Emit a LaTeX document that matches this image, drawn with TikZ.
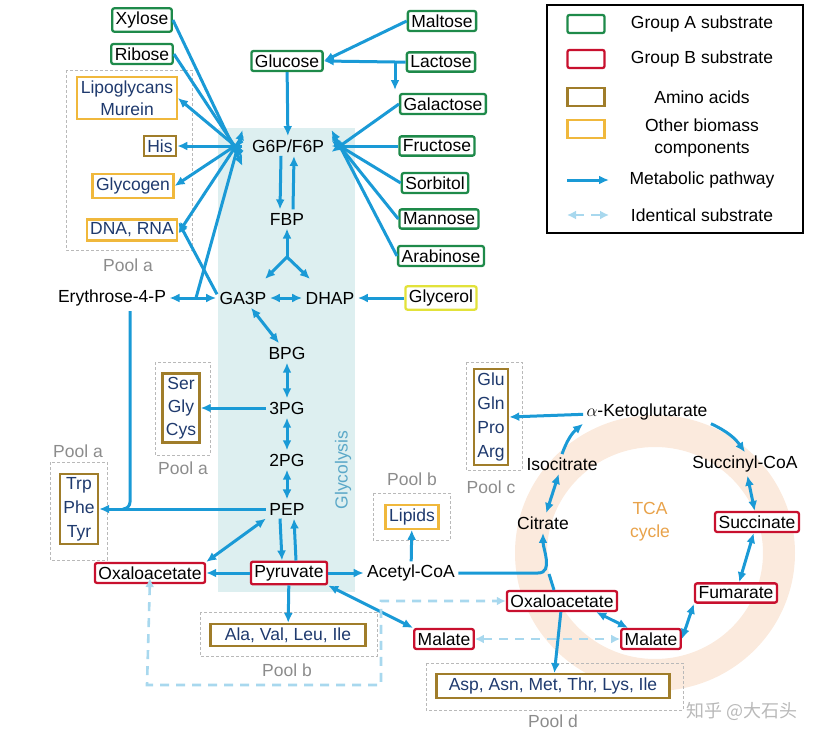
\documentclass[tikz,border=0pt]{standalone}
\usepackage{fontspec}
\setmainfont{Liberation Sans}
\newfontfamily\cjk{Noto Sans CJK SC}
\usetikzlibrary{arrows.meta,calc}
\definecolor{gA}{HTML}{1E8A4A}
\definecolor{gB}{HTML}{C8102E}
\definecolor{aaC}{HTML}{A07D2A}
\definecolor{obC}{HTML}{F0B83C}
\definecolor{glyC}{HTML}{E2E23A}
\definecolor{txb}{HTML}{1F3A6E}
\definecolor{bl}{HTML}{1A9AD6}
\definecolor{lb}{HTML}{A8D8EE}
\definecolor{shadeC}{HTML}{DDEFF0}
\definecolor{ringC}{HTML}{FBEADD}
\definecolor{tcaC}{HTML}{E8A24A}
\definecolor{glyT}{HTML}{5AA8C8}
\newcommand{\fs}{\fontsize{17.5}{20}\selectfont}
\tikzset{
 every node/.style={font=\fs},
 bx/.style={line width=2.3pt, rounded corners=2pt, inner sep=3.5pt, fill=white},
 ga/.style={bx, draw=gA},
 gb/.style={bx, draw=gB},
 aa/.style={bx, draw=aaC, text=txb, rounded corners=0pt},
 ob/.style={bx, draw=obC, text=txb, rounded corners=0pt},
 pw/.style={draw=bl, line width=3pt, -{Latex[length=10pt,width=9pt]}},
 pwb/.style={draw=bl, line width=3pt, {Latex[length=10pt,width=9pt]}-{Latex[length=10pt,width=9pt]}},
 ln/.style={draw=bl, line width=3pt},
 idn/.style={draw=lb, line width=2.6pt, dash pattern=on 9pt off 7pt, {Latex[length=9pt,width=9pt]}-{Latex[length=9pt,width=9pt]}},
 pool/.style={draw=gray!55, dash pattern=on 3pt off 2pt, line width=1pt},
 pl/.style={text=gray!90, font=\fs},
}
\begin{document}
\begin{tikzpicture}[x=1pt,y=-1pt]
\useasboundingbox (0,0) rectangle (831,739);
% backgrounds
\fill[shadeC] (218,128) rectangle (355,592);
\fill[ringC, even odd rule] (655,553) ellipse (140 and 138) (655,553) ellipse (108 and 106);
\node[rotate=90, text=glyT] (glylab) at (343,470) {Glycolysis};
\node[text=tcaC, align=center, font=\fontsize{17.5}{23}\selectfont] (tcalab) at (650,522) {TCA\\cycle};
% pools
\draw[pool] (66,70) rectangle (192,250);
\node[pl] (pa1) at (128,265) {Pool a};
\draw[pool] (155,362) rectangle (210,455);
\node[pl] (pa2) at (183,468) {Pool a};
\draw[pool] (50,462) rectangle (107,560);
\node[pl] (pa3) at (78,451) {Pool a};
\draw[pool] (373,493) rectangle (450,540);
\node[pl] (pb1) at (412,479) {Pool b};
\draw[pool] (200,612) rectangle (377,656);
\node[pl] (pb2) at (287,670) {Pool b};
\draw[pool] (466,362) rectangle (522,470);
\node[pl] (pc) at (491,487) {Pool c};
\draw[pool] (426,663) rectangle (683,710);
\node[pl] (pd) at (553,721) {Pool d};
% nodes
\node[ga] (xyl) at (142,20) {Xylose};
\node[ga] (rib) at (142,54) {Ribose};
\node[ob, align=center, font=\fontsize{17.5}{22}\selectfont] (lip) at (127,98) {Lipoglycans\\Murein};
\node[aa] (his) at (160,146) {His};
\node[ob] (glyc) at (133,186) {Glycogen};
\node[ob] (dna) at (132,230) {DNA, RNA};
\node[ga] (glu) at (287,61) {Glucose};
\node (g6p) at (288,146) {G6P/F6P};
\node (fbp) at (287,219) {FBP};
\node (ga3p) at (243,298) {GA3P};
\node (dhap) at (330,298) {DHAP};
\node (e4p) at (112,298) {Erythrose-4-P};
\node[ga] (mal) at (442,21) {Maltose};
\node[ga] (lac) at (441,62) {Lactose};
\node[ga] (gal) at (443,104) {Galactose};
\node[ga] (fru) at (437,146) {Fructose};
\node[ga] (sor) at (435,183) {Sorbitol};
\node[ga] (man) at (439,219) {Mannose};
\node[ga] (ara) at (441,256) {Arabinose};
\node[bx, draw=glyC] (glyl) at (441,298) {Glycerol};
\node (bpg) at (287,353) {BPG};
\node (pg3) at (287,408) {3PG};
\node (pg2) at (287,460) {2PG};
\node (pep) at (287,509) {PEP};
\node[gb] (pyr) at (289,573) {Pyruvate};
\node[gb] (oaa1) at (150,573) {Oxaloacetate};
\node (acoa) at (411,573) {Acetyl-CoA};
\node[ob] (lpd) at (412,517) {Lipids};
\node[aa, minimum width=155pt] (alav) at (288,635) {Ala, Val, Leu, Ile};
\node[aa, align=center, font=\fontsize{17.5}{23}\selectfont] (ser) at (181,408) {Ser\\Gly\\Cys};
\node[aa, align=center, font=\fontsize{17.5}{24}\selectfont] (trp) at (79,509) {Trp\\Phe\\Tyr};
\node[aa, align=center, font=\fontsize{17.5}{24}\selectfont] (glum) at (491,417) {Glu\\Gln\\Pro\\Arg};
\node (akg) at (647,412) {$\alpha$-Ketoglutarate};
\node (scoa) at (745,464) {Succinyl-CoA};
\node[gb] (suc) at (757,522) {Succinate};
\node[gb] (fum) at (736,593) {Fumarate};
\node[gb] (mal2) at (651,639) {Malate};
\node[gb] (oaa2) at (562,601) {Oxaloacetate};
\node (cit) at (543,523) {Citrate};
\node (iso) at (562,464) {Isocitrate};
\node[gb] (mal1) at (444,639) {Malate};
\node[aa, minimum width=233pt] (asp) at (553,686) {Asp, Asn, Met, Thr, Lys, Ile};
% legend
\draw[line width=1.8pt] (547,5) rectangle (803,233);
\node[ga, minimum width=37pt, minimum height=18pt, inner sep=0pt] (lA) at (586,24) {};
\node[gb, minimum width=37pt, minimum height=18pt, inner sep=0pt] (lB) at (586,59) {};
\node[aa, minimum width=37pt, minimum height=18pt, inner sep=0pt] (lC) at (586,97) {};
\node[ob, minimum width=37pt, minimum height=18pt, inner sep=0pt] (lD) at (586,129) {};
\node (tA) at (702,24) {Group A substrate};
\node (tB) at (702,59) {Group B substrate};
\node (tC) at (702,97) {Amino acids};
\node[align=center, font=\fontsize{17.5}{22}\selectfont] (tD) at (702,138) {Other biomass\\components};
\node (tE) at (702,180) {Metabolic pathway};
\node (tF) at (702,215) {Identical substrate};
\coordinate (lE1) at (567,180); \coordinate (lE2) at (609,180);
\coordinate (lF1) at (567,215); \coordinate (lF2) at (609,215);
\draw[pw] (lE1) -- (lE2);
\draw[idn] (lF1) -- (lF2);
% watermark
\node[text=gray!55, font=\cjk\fontsize{18}{20}\selectfont] (wm) at (742,711) {知乎 @大石头};
% arrows top-left
\draw[pw] (xyl.east) -- ([xshift=-6,yshift=-20]g6p.west);
\draw[pw] (rib.east) -- ([xshift=-6,yshift=-12]g6p.west);
\draw[pw] ([xshift=-6,yshift=-6]g6p.west) -- (lip.east);
\draw[pw] ([xshift=-6]g6p.west) -- (his.east);
\draw[pw] ([xshift=-6,yshift=5]g6p.west) -- (glyc.east);
\draw[pw] ([xshift=-6,yshift=10]g6p.west) -- ([yshift=-3]dna.east);
\draw[pw] ([xshift=-26,yshift=-6]ga3p.north) -- ([yshift=8]dna.east);
\coordinate (br) at (196,298);
\draw[pw] (br) -- ([xshift=-6,yshift=16]g6p.west);
\draw[pw] (glu) -- (g6p);
\draw[pw] (mal.west) -- (glu.east);
\coordinate (lacj) at (395,62);
\draw[pw] (lac.west) -- (lacj) -- (glu.east);
\draw[pw] (lacj) -- (395,90);
\draw[pw] (gal.west) -- ([xshift=4,yshift=-6]g6p.east);
\draw[pw] (fru.west) -- ([xshift=4]g6p.east);
\draw[pw] (sor.west) -- ([xshift=4,yshift=5]g6p.east);
\draw[pw] (man.west) -- ([xshift=4,yshift=10]g6p.east);
\draw[pw] (ara.west) -- ([xshift=4,yshift=16]g6p.east);
\draw[pw] ([xshift=-7]g6p.south) -- ([xshift=-7]fbp.north);
\draw[pw] ([xshift=6]fbp.north) -- ([xshift=6]g6p.south);
\coordinate (yc) at (287,257);
\draw[pw] (yc) -- (fbp.south);
\draw[pw] (yc) -- (265,279);
\draw[pw] (yc) -- (310,279);
\draw[pwb] (ga3p) -- (dhap);
\draw[pw] (glyl) -- (dhap);
\draw[pwb] (e4p) -- (ga3p);
\draw[pwb] ([xshift=8]ga3p.south) -- ([xshift=-8]bpg.north);
\draw[pwb] (bpg) -- (pg3);
\draw[pwb] (pg3) -- (pg2);
\draw[pwb] (pg2) -- (pep);
\draw[pw] (pg3) -- (ser.east);
\draw[ln] (130,311) -- (130,502) to[out=-90,in=0] (123,509);
\draw[pw] (pep) -- (trp.east);
\draw[pw] ([xshift=-7]pep.south) -- ([xshift=-7]pyr.north);
\draw[pw] ([xshift=7]pyr.north) -- ([xshift=7]pep.south);
\draw[pwb] (pep.south west) -- (oaa1.north east);
\draw[pw] (pyr) -- (oaa1);
\draw[pw] (pyr) -- (acoa);
\draw[pw] (pyr) -- (alav);
\draw[pwb] (pyr.south east) -- (mal1.north west);
\draw[pw] (acoa) -- (lpd);
\draw[pw] (acoa.east) -- (538,573) to[out=0,in=-90] (cit.south);
\draw[ln] ([xshift=-8]oaa2.north) -- (549,574);
\draw[pwb] (cit) -- (iso);
\draw[pw] (iso.north) to[bend left=15] (akg.south west);
\draw[pw] (akg) -- (glum.east);
\draw[pw] (akg.south east) to[bend left=15] (scoa.north);
\draw[pwb] (scoa) -- (suc);
\draw[pwb] (suc) -- (fum);
\draw[pwb] (fum.south west) -- (mal2.east);
\draw[pwb] ([xshift=-22]oaa2.south east) -- ([xshift=8]mal2.north west);
\draw[pw] (oaa2) -- (asp);
% identical substrates
\draw[idn] (mal1) -- (mal2);
\draw[idn] ([yshift=6]oaa1.south) -- (147,685) -- (381,685) -- (381,601) -- (oaa2.west);
\end{tikzpicture}
\end{document}
